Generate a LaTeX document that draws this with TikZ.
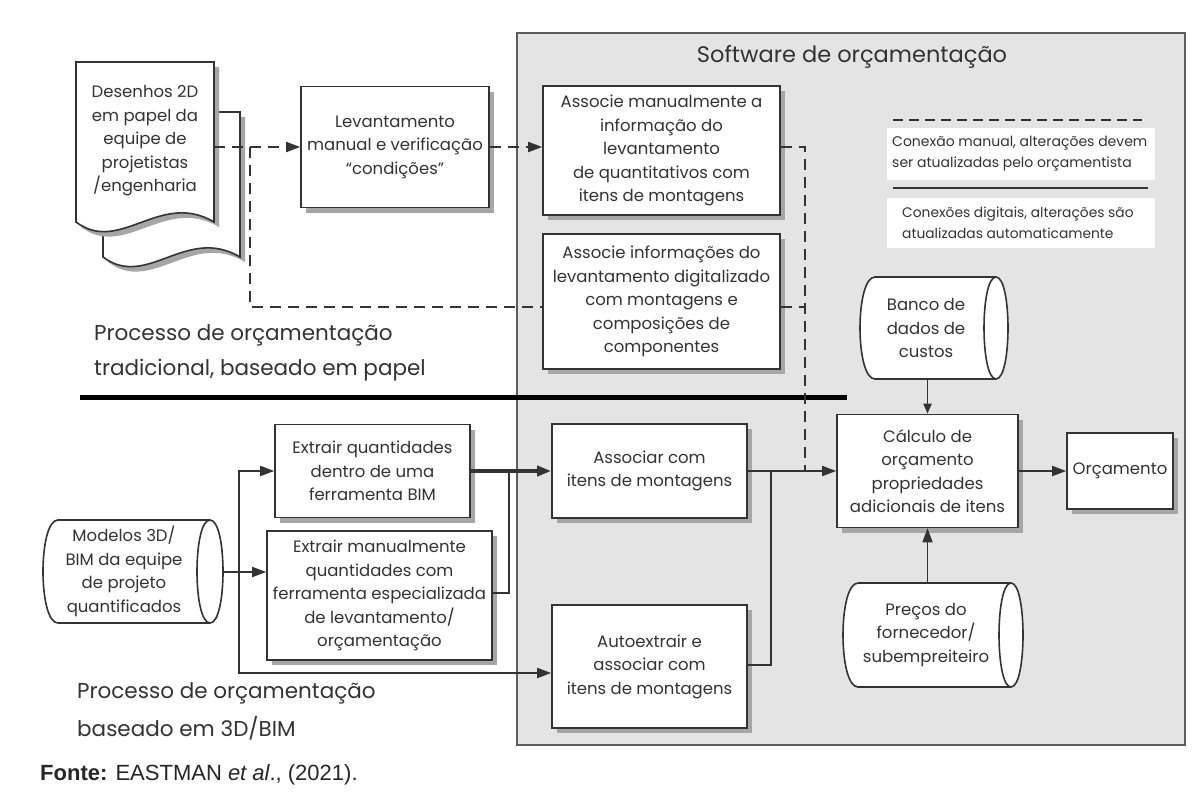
\documentclass[tikz,border=0pt]{standalone}
\usepackage{fontspec}
\setmainfont{Poppins}
\newfontfamily\capfont{Liberation Sans}
\usetikzlibrary{arrows.meta,shadows,calc}
\definecolor{ink}{HTML}{333333}
\definecolor{panel}{HTML}{E4E4E4}
\definecolor{lin}{HTML}{333333}
\newcommand\mycyl[5]{%
 \pgfmathsetmacro\cxA{#1+15}\pgfmathsetmacro\cxB{#1-5}%
 \pgfmathsetmacro\ec{#3-#5}\pgfmathsetmacro\eo{#3-#5+1.333*#5}\pgfmathsetmacro\ei{#3-#5-1.333*#5}%
 \draw[cylline] (\cxA,#2) -- (\ec,#2) .. controls (\eo,#2) and (\eo,#4) .. (\ec,#4) -- (\cxA,#4) .. controls (\cxB,#4) and (\cxB,#2) .. (\cxA,#2) -- cycle;
 \draw[cylline,fill=none] (\ec,#2) .. controls (\ei,#2) and (\ei,#4) .. (\ec,#4);
}
\begin{document}
\begin{tikzpicture}[x=1pt,y=-1pt,
 box/.style={draw=lin, fill=white, line width=1.6pt, align=center, inner sep=0pt, text=ink,
   font=\fontsize{16.5}{23.5}\selectfont,
   drop shadow={shadow xshift=5pt, shadow yshift=-5pt, fill=black!35, opacity=1}},
 cylline/.style={draw=lin, fill=white, line width=1.6pt},
 area/.style={inner sep=0pt, minimum width=#1},
 txt/.style={text=ink, align=center, inner sep=0pt, font=\fontsize{16.5}{23.5}\selectfont},
 conn/.style={draw=lin, line width=1.8pt},
 dconn/.style={draw=lin, line width=1.8pt, dash pattern=on 11pt off 7pt},
 arr/.style={-{Triangle[length=14pt,width=10pt]}},
 sarr/.style={-{Triangle[length=10pt,width=8pt]}},
 legtxt/.style={text=ink, align=left, inner sep=0pt, font=\fontsize{14}{21}\selectfont},
 big/.style={text=ink, anchor=west, inner sep=0pt, font=\fontsize{21.5}{24}\selectfont},
]
\useasboundingbox (0,0) rectangle (1201,803);
\fill[white] (0,0) rectangle (1201,803);

% software panel
\node[draw=lin!80, fill=panel, line width=1.8pt, minimum width=668pt, minimum height=712pt, inner sep=0pt] (panel) at (851,389) {};
\node[text=ink, font=\fontsize{22.5}{24}\selectfont, inner sep=0pt] (ptitle) at (852,57) {Software de orçamentação};

% legend
\node[fill=white, minimum width=268pt, minimum height=52pt, inner sep=0pt] (leg1) at (1021,154) {};
\node[legtxt, anchor=west] (leg1t) at (892,154) {Conexão manual, alterações devem\\ser atualizadas pelo orçamentista};
\node[fill=white, minimum width=268pt, minimum height=50pt, inner sep=0pt] (leg2) at (1021,223) {};
\node[legtxt, anchor=west, font=\fontsize{13.8}{21}\selectfont] (leg2t) at (902,223) {Conexões digitais, alterações são\\atualizadas automaticamente};
\coordinate (l1a) at (893,120); \coordinate (l1b) at (1142,120);
\draw[draw=lin, line width=2pt, dash pattern=on 10pt off 6pt] (l1a) -- (l1b);
\coordinate (l2a) at (893,188); \coordinate (l2b) at (1148,188);
\draw[draw=lin, line width=2.2pt] (l2a) -- (l2b);

% document shape
\draw[draw=lin, fill=white, line width=1.6pt, drop shadow={shadow xshift=5pt, shadow yshift=-5pt, fill=black!35, opacity=1}]
  (103,112) -- (240,112) -- (240,257) .. controls (186,225) and (147,290) .. (103,257) -- cycle;
\draw[draw=lin, fill=white, line width=1.6pt, drop shadow={shadow xshift=5pt, shadow yshift=-5pt, fill=black!35, opacity=1}]
  (76,62) -- (214,62) -- (214,222) .. controls (160,190) and (120,255) .. (76,222) -- cycle;
\node[area=138pt, minimum height=160pt] (doc) at (145,142) {};
\node[txt] (doct) at (145,141) {Desenhos 2D\\em papel da\\equipe de\\projetistas\\/engenharia};

% top boxes
\node[box, minimum width=188pt, minimum height=121pt] (lev) at (395,147) {Levantamento\\manual e verificação\\“condições”};
\node[box, minimum width=237pt, minimum height=129pt] (am) at (661.5,150.5) {Associe manualmente a\\informação do\\levantamento\\de quantitativos com\\itens de montagens};
\node[box, minimum width=237pt, minimum height=135pt] (ai) at (661.5,301.5) {Associe informações do\\levantamento digitalizado\\com montagens e\\composições de\\componentes};

% divider and section labels
\coordinate (dv1) at (80,397); \coordinate (dv2) at (847,397);
\draw[black, line width=5pt] (dv1) -- (dv2);
\node[big] (p1a) at (94,335) {Processo de orçamentação};
\node[big] (p1b) at (94,370) {tradicional, baseado em papel};
\node[big] (p2a) at (77,693) {Processo de orçamentação};
\node[big] (p2b) at (77,728) {baseado em 3D/BIM};

% bottom boxes
\node[box, minimum width=195pt, minimum height=93pt] (eq) at (372.5,471) {Extrair quantidades\\dentro de uma\\ferramenta BIM};
\node[box, minimum width=225pt, minimum height=129pt] (em) at (379.5,595.5) {Extrair manualmente\\quantidades com\\ferramenta especializada\\de levantamento/\\orçamentação};
\node[box, minimum width=195pt, minimum height=94pt] (as) at (649.5,471) {Associar com\\itens de montagens};
\node[box, minimum width=195pt, minimum height=123pt] (au) at (649.5,666.5) {Autoextrair e\\associar com\\itens de montagens};
\node[box, minimum width=181pt, minimum height=113pt] (calc) at (927.5,471) {Cálculo de\\orçamento\\propriedades\\adicionais de itens};
\node[box, minimum width=106pt, minimum height=76pt] (orc) at (1120,471) {Orçamento};

% cylinders
\mycyl{43}{520}{223}{623}{13}
\node[area=180pt, minimum height=103pt] (modelos) at (133,571.5) {};
\node[txt] (modelost) at (124,571.5) {Modelos 3D/\\BIM da equipe\\de projeto\\quantificados};
\mycyl{860}{277}{1008}{379}{12}
\node[area=148pt, minimum height=102pt] (banco) at (934,328) {};
\node[txt] (bancot) at (926,328) {Banco de\\dados de\\custos};
\mycyl{843}{583}{1023}{687}{12}
\node[area=180pt, minimum height=104pt] (precos) at (933,635) {};
\node[txt] (precost) at (926,635) {Preços do\\fornecedor/\\subempreiteiro};

% dashed connections (traditional)
\coordinate (j1) at (250,147);
\coordinate (j2) at (250,307);
\draw[dconn, arr] (doc.east |- lev.west) -- (lev.west);
\draw[dconn] (j1) -- (j2) -- (j2 -| ai.west);
\draw[dconn, arr] (lev.east) -- (lev.east -| am.west);
\coordinate (d1) at (805,147);
\coordinate (d2) at (805,471);
\draw[dconn] (d1 -| am.east) -- (d1) -- (d2);
\draw[dconn] (ai.east |- j2) -- (d1 |- j2);

% BIM connections
\coordinate (b1) at (239,572);
\coordinate (b2) at (239,673);
\draw[conn, arr] (modelos.east |- b1) -- (b1 -| em.west);
\draw[conn, arr] (b1) -- (b1 |- eq.west) -- (eq.west);
\draw[conn, arr] (b1) -- (b2) -- (b2 -| au.west);
\draw[conn, line width=3.5pt, arr] (eq.east) -- (as.west);
\coordinate (m1) at (509,593);
\draw[conn] (m1 -| em.east) -- (m1) -- (m1 |- eq.east);
\draw[conn, arr] (as.east) -- (calc.west);
\coordinate (m2) at (771,665);
\draw[conn] (m2 -| au.east) -- (m2) -- (m2 |- as.east);
\draw[conn, sarr] (calc.north |- banco.south) -- (calc.north);
\draw[conn, arr] (calc.south |- precos.north) -- (calc.south);
\draw[conn, arr] (calc.east) -- (orc.west);

% source
\node[anchor=west, inner sep=0pt, font=\capfont\fontsize{22}{24}\selectfont, text=black!85] (fonte) at (40,775) {\textbf{Fonte:} EASTMAN \textit{et al}., (2021).};
\end{tikzpicture}
\end{document}
